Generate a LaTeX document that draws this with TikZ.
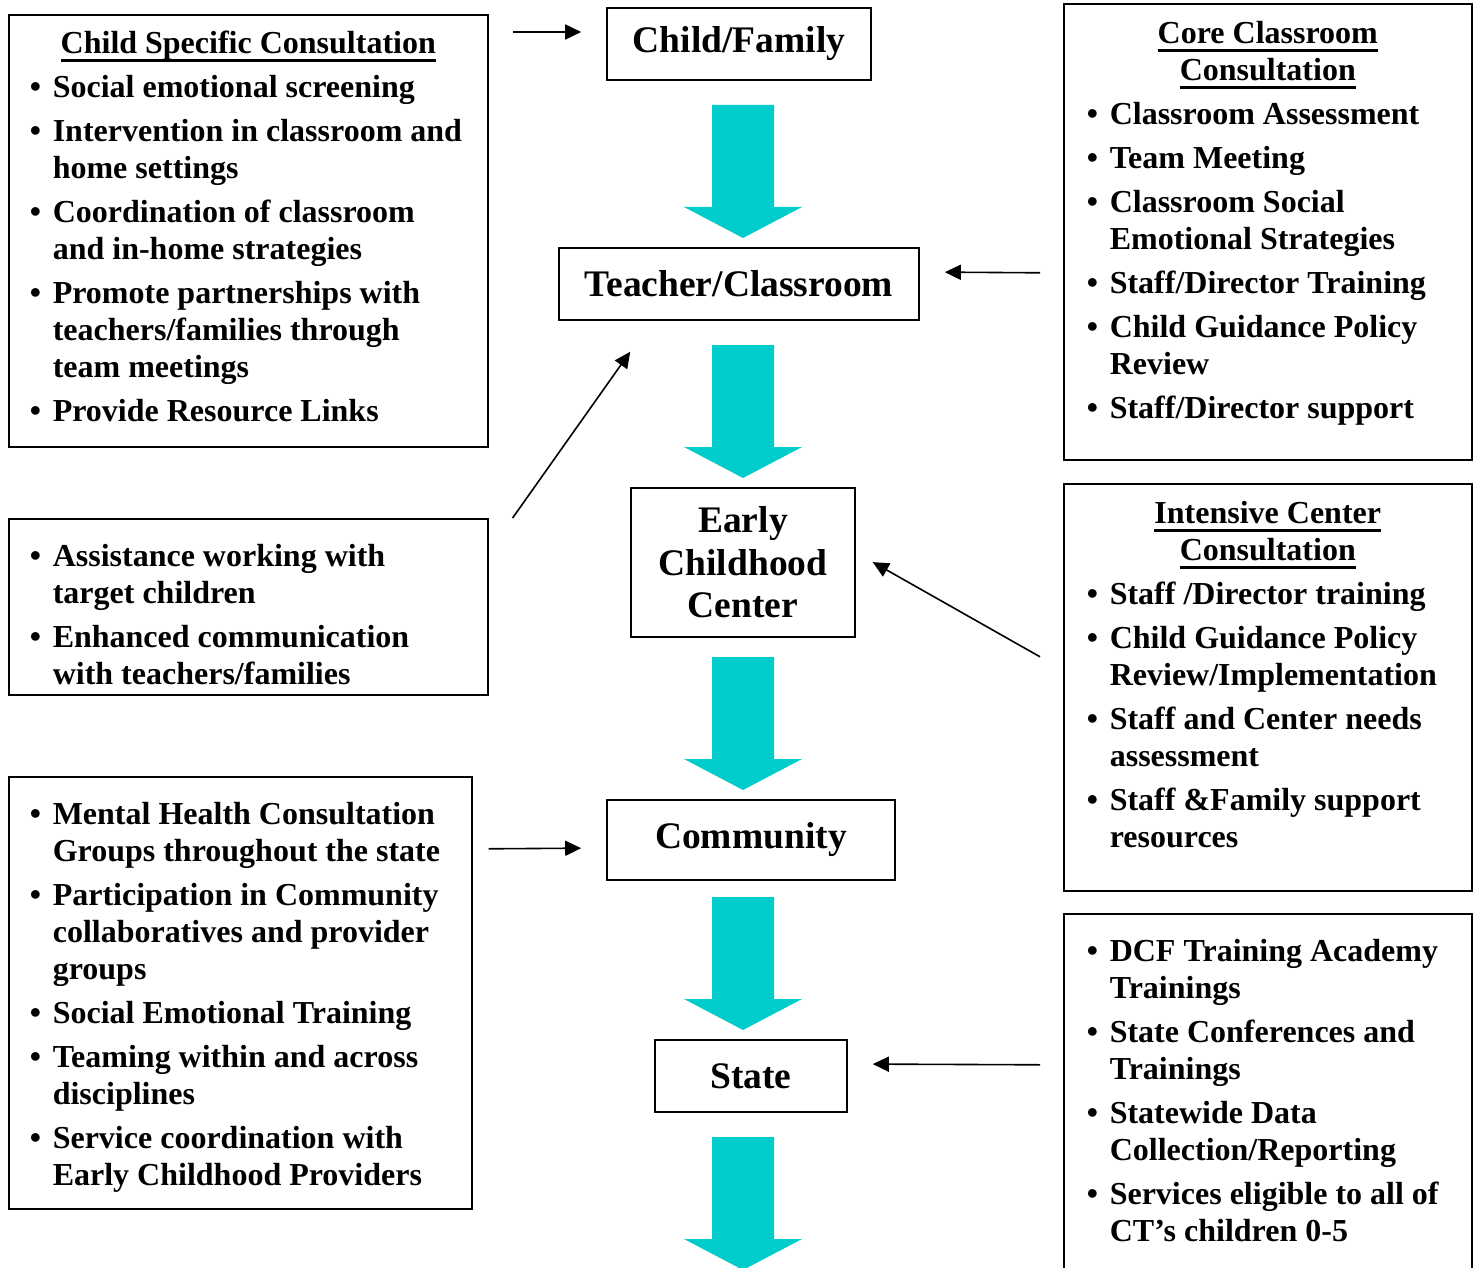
\documentclass[tikz,border=0pt]{standalone}
\usepackage{fontspec}
\setmainfont{Liberation Serif}
\usetikzlibrary{arrows.meta}

\definecolor{flowcyan}{RGB}{0,204,204}

% heading underline, 3pt thick, 8pt below the baseline
\newcommand{\uln}[1]{\setbox0\hbox{#1}\leavevmode\rlap{\rule[-8pt]{\wd0}{3pt}}\box0}
% one bulleted entry, hanging indent for the wrapped lines
\newcommand{\itm}[1]{\par\hangindent=23pt\hangafter=1\noindent\strut\makebox[23pt][l]{\textbullet}#1\par}
% centred heading of a side box
\newcommand{\ttl}[1]{{\centering\parskip=0pt\strut #1\par}}
% text of a side box: width, height, top gap, content
\newcommand{\sidetext}[4]{\parbox[c][#2][t]{#1}{\fontsize{32}{37}\selectfont\bfseries\raggedright\parskip=7pt\vspace*{#3}#4}}

\begin{document}
\begin{tikzpicture}[x=1pt, y=-1pt,
    level/.style={draw, line width=1.6pt, inner sep=0pt, align=center,
        font=\fontsize{37.5}{42.5}\selectfont\bfseries},
    infobox/.style={draw, line width=1.6pt, anchor=north west, inner ysep=0pt},
    link/.style={line width=1.6pt, -{Triangle[length=16pt, width=15pt]}}]
    \useasboundingbox (0,0) rectangle (1476,1268);

    % Levels down the middle
    \node[level, minimum width=264pt, minimum height=72pt] (family) at (739,44) {Child/Family};
    \node[level, minimum width=360pt, minimum height=72pt] (teacher) at (739,284) {Teacher/Classroom};
    \node[level, minimum width=224pt, minimum height=149pt] (ecc) at (743,562.5) {Early\\Childhood\\Center};
    \node[level, minimum width=288pt, minimum height=80pt] (community) at (751,840) {Community};
    \node[level, minimum width=192pt, minimum height=72pt] (state) at (751,1076) {State};

    % Big cyan arrows between the levels
    \foreach \ya in {105,345,657,897,1137}
        \fill[flowcyan] (712,\ya) -- ++(0,102) -- ++(-28,0) -- ++(59,31) -- ++(59,-31) -- ++(-28,0) -- ++(0,-102) -- cycle;

    % Left boxes
    \node[infobox, inner xsep=21pt] (csc) at (8,14) {\sidetext{437pt}{432pt}{13.1pt}{%
        \ttl{\uln{Child Specific Consultation}}
        \itm{Social emotional screening}
        \itm{Intervention in classroom and\newline home settings}
        \itm{Coordination of classroom\newline and in-home strategies}
        \itm{Promote partnerships with\newline teachers/families through\newline team meetings}
        \itm{Provide Resource Links}}};
    \node[infobox, inner xsep=21pt] (assist) at (8,518) {\sidetext{437pt}{176pt}{15.1pt}{%
        \itm{Assistance working with\newline target children}
        \itm{Enhanced communication\newline with teachers/families}}};
    \node[infobox, inner xsep=21pt] (mhc) at (8,776) {\sidetext{421pt}{432pt}{15.1pt}{%
        \itm{Mental Health Consultation\newline Groups throughout the state}
        \itm{Participation in Community\newline collaboratives and provider\newline groups}
        \itm{Social Emotional Training}
        \itm{Teaming within and across\newline disciplines}
        \itm{Service coordination with\newline Early Childhood Providers}}};

    % Right boxes
    \node[infobox, inner xsep=23pt] (core) at (1063,3) {\sidetext{362pt}{456pt}{14.1pt}{%
        \ttl{\uln{Core Classroom}\\\uln{Consultation}}
        \itm{Classroom Assessment}
        \itm{Team Meeting}
        \itm{Classroom Social\newline Emotional Strategies}
        \itm{Staff/Director Training}
        \itm{Child Guidance Policy\newline Review}
        \itm{Staff/Director support}}};
    \node[infobox, inner xsep=23pt] (intensive) at (1063,483) {\sidetext{362pt}{407pt}{14.1pt}{%
        \ttl{\uln{Intensive Center}\\\uln{Consultation}}
        \itm{Staff /Director training}
        \itm{Child Guidance Policy\newline Review/Implementation}
        \itm{Staff and Center needs\newline assessment}
        \itm{Staff \&Family support\newline resources}}};
    \node[infobox, inner xsep=23pt] (statewide) at (1063,913) {\sidetext{362pt}{400pt}{15.1pt}{%
        \itm{DCF Training Academy\newline Trainings}
        \itm{State Conferences and\newline Trainings}
        \itm{Statewide Data\newline Collection/Reporting}
        \itm{Services eligible to all of\newline CT’s children 0-5}}};

    % Thin arrows from the boxes to the levels
    \draw[link, shorten >=25pt] ([xshift=24pt, yshift=-18pt]csc.north east) -- ([yshift=12pt]family.west);
    \draw[link, shorten >=25pt] ([xshift=-23pt, yshift=-41pt]core.west) -- ([yshift=12pt]teacher.east);
    \draw[link] ([xshift=24pt]assist.north east) -- ([xshift=72pt, yshift=-31pt]teacher.south west);
    \draw[link, shorten >=19.5pt] ([xshift=-23pt, yshift=30.5pt]intensive.west) -- ([yshift=10pt]ecc.east);
    \draw[link, shorten >=25pt] ([xshift=16pt, yshift=144pt]mhc.east) -- ([yshift=-8pt]community.west);
    \draw[link, shorten >=25pt] ([xshift=-23pt, yshift=49pt]statewide.west) -- ([yshift=12pt]state.east);
\end{tikzpicture}
\end{document}
